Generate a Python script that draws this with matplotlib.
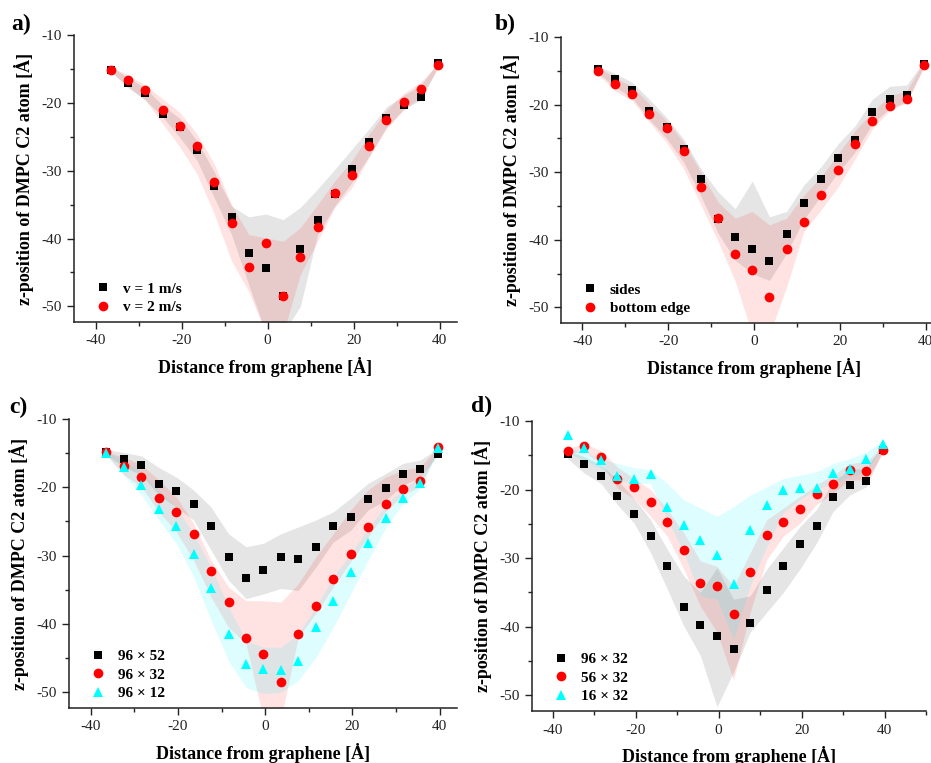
import matplotlib
matplotlib.use("Agg")
import matplotlib.pyplot as plt
from matplotlib.ticker import MultipleLocator

plt.rcParams['font.family'] = ['Liberation Serif', 'DejaVu Serif']
plt.rcParams['axes.unicode_minus'] = False

# positions along the graphene (same for every series)
dist = [-36.4, -32.4, -28.4, -24.4, -20.4, -16.4, -12.4, -8.4, -4.4, -0.4,
        3.6, 7.6, 11.6, 15.6, 19.6, 23.6, 27.6, 31.6, 35.6, 39.6]

# a) pulling velocity
a_v1 = [-15.1, -17.1, -18.5, -21.6, -23.6, -26.9, -32.3, -36.8, -42.1, -44.4,
        -48.5, -41.5, -37.3, -33.5, -29.8, -25.8, -22.3, -20.3, -19.2, -14.1]
a_v2 = [-15.1, -16.7, -18.1, -21.0, -23.4, -26.4, -31.6, -37.7, -44.2, -40.6,
        -48.4, -42.7, -38.3, -33.3, -30.7, -26.4, -22.6, -19.9, -18.0, -14.4]
a_v1_hi = [-14.7, -16.3, -17.8, -20.4, -22.3, -25.6, -30.2, -35.2, -36.8, -36.4,
           -37.2, -35.4, -32.7, -29.8, -26.8, -23.8, -20.6, -18.9, -17.4, -14.0]
a_v1_lo = [-15.4, -17.8, -19.6, -22.1, -25.1, -28.5, -34.0, -39.4, -46.8, -54.0,
           -54.0, -50.0, -39.4, -35.2, -31.7, -27.8, -23.6, -20.9, -19.6, -14.7]
a_v2_hi = [-14.7, -15.9, -17.4, -19.4, -21.4, -24.6, -29.0, -35.0, -39.4, -39.9,
           -40.4, -38.4, -35.0, -31.5, -28.5, -24.6, -21.1, -18.6, -16.9, -14.2]
a_v2_lo = [-15.4, -17.6, -19.6, -23.1, -26.5, -30.5, -36.4, -43.3, -47.8, -54.0,
           -54.0, -45.3, -40.4, -35.4, -32.5, -28.0, -23.8, -21.1, -19.1, -14.9]

# b) pulling direction
b_sides = [-14.7, -16.2, -17.9, -20.9, -23.3, -26.6, -31.0, -36.9, -39.6, -41.3,
           -43.2, -39.2, -34.5, -31.0, -27.9, -25.2, -21.1, -19.2, -18.6, -14.0]
b_edge = [-15.0, -16.9, -18.5, -21.4, -23.5, -26.8, -32.2, -36.8, -42.1, -44.4,
          -48.5, -41.4, -37.4, -33.4, -29.7, -25.8, -22.4, -20.2, -19.1, -14.1]
b_sides_hi = [-14.3, -15.4, -16.7, -19.2, -21.9, -25.1, -29.5, -32.9, -35.4, -31.3,
              -36.6, -35.8, -31.9, -29.2, -25.8, -23.1, -19.2, -17.3, -17.1, -13.6]
b_sides_lo = [-15.3, -17.4, -19.0, -22.2, -25.0, -28.5, -33.5, -39.0, -43.0, -45.0,
              -46.0, -42.0, -37.0, -33.5, -30.0, -27.0, -22.8, -20.6, -19.6, -14.4]
b_edge_hi = [-14.5, -16.0, -17.3, -19.9, -22.4, -25.6, -30.0, -34.4, -36.8, -35.8,
             -37.8, -36.8, -33.4, -30.7, -27.3, -23.8, -21.1, -18.7, -18.0, -13.6]
b_edge_lo = [-15.5, -18.0, -19.4, -22.6, -25.6, -29.5, -34.8, -40.2, -46.1, -54.0,
             -54.0, -47.0, -38.8, -35.6, -32.2, -28.0, -23.6, -20.9, -19.7, -14.5]

# c) box width
c_52 = [-14.9, -15.9, -16.7, -19.5, -20.6, -22.5, -25.6, -30.2, -33.3, -32.1,
        -30.2, -30.5, -28.7, -25.7, -24.4, -21.7, -20.1, -18.0, -17.3, -15.1]
c_32 = [-14.9, -16.9, -18.5, -21.5, -23.6, -26.9, -32.2, -36.8, -42.1, -44.4,
        -48.5, -41.5, -37.4, -33.4, -29.7, -25.8, -22.4, -20.2, -19.1, -14.1]
c_12 = [-15.0, -17.0, -19.6, -23.1, -25.6, -29.7, -34.7, -41.4, -45.8, -46.6,
        -46.7, -45.4, -40.5, -36.7, -32.4, -28.1, -24.5, -21.5, -19.4, -14.3]
c_52_hi = [-14.5, -14.9, -15.4, -17.1, -18.5, -20.4, -22.9, -26.8, -28.7, -28.2,
           -26.8, -25.8, -24.8, -23.6, -21.6, -19.4, -18.0, -16.5, -16.0, -14.3]
c_52_lo = [-15.3, -17.0, -18.2, -21.1, -22.9, -24.8, -29.2, -33.6, -36.3, -35.6,
           -34.8, -35.1, -31.7, -28.0, -26.3, -23.3, -21.9, -19.7, -18.5, -15.3]
c_32_hi = [-14.8, -15.6, -16.7, -18.9, -21.4, -25.3, -30.7, -34.6, -36.6, -36.6,
           -36.8, -34.1, -30.2, -26.8, -23.3, -20.4, -18.5, -17.5, -17.0, -14.1]
c_32_lo = [-15.3, -18.2, -19.9, -23.6, -26.5, -30.7, -36.1, -40.5, -42.9, -54.0,
           -54.0, -41.9, -38.5, -34.6, -30.9, -27.3, -23.6, -21.1, -19.9, -14.5]
c_12_hi = [-14.8, -16.0, -17.7, -20.4, -22.9, -26.8, -31.7, -37.5, -42.4, -43.4,
           -43.4, -41.4, -37.5, -33.1, -29.7, -26.0, -22.6, -20.2, -18.5, -14.1]
c_12_lo = [-15.3, -18.2, -21.1, -24.8, -28.2, -33.1, -39.5, -45.4, -49.3, -50.2,
           -50.0, -48.3, -44.9, -40.5, -35.6, -30.7, -26.0, -22.4, -20.2, -14.8]

# d) box length
d_96 = [-14.8, -16.3, -18.0, -21.0, -23.6, -26.8, -31.1, -37.1, -39.8, -41.4,
        -43.3, -39.4, -34.7, -31.2, -28.0, -25.3, -21.1, -19.3, -18.7, -14.2]
d_56 = [-14.4, -13.7, -15.2, -18.4, -19.6, -21.8, -24.8, -28.8, -33.7, -34.1,
        -38.1, -32.0, -26.6, -24.7, -22.8, -20.6, -19.2, -17.1, -17.3, -14.3]
d_16 = [-12.0, -13.9, -15.7, -18.0, -18.5, -17.8, -22.6, -25.2, -27.3, -29.6,
        -33.8, -25.9, -22.3, -20.0, -19.7, -19.7, -17.6, -17.0, -15.6, -13.3]
d_96_hi = [-14.3, -15.2, -16.4, -18.6, -21.3, -24.4, -28.7, -32.6, -35.0, -31.4,
           -36.0, -35.5, -31.6, -28.5, -25.4, -22.9, -18.8, -17.1, -16.9, -13.3]
d_96_lo = [-15.5, -17.6, -19.1, -22.2, -24.9, -29.2, -34.5, -39.9, -44.2, -51.7,
           -46.6, -40.8, -37.9, -35.0, -31.6, -27.8, -23.2, -20.8, -19.6, -14.3]
d_56_hi = [-14.0, -13.3, -14.3, -16.7, -18.4, -20.0, -22.9, -26.3, -30.4, -31.2,
           -34.1, -29.2, -24.4, -22.7, -21.0, -19.3, -17.9, -16.2, -15.9, -13.8]
d_56_lo = [-14.7, -14.5, -16.2, -19.8, -21.3, -23.9, -26.8, -31.6, -37.0, -40.8,
           -47.8, -37.9, -30.2, -26.8, -24.9, -22.2, -20.5, -18.6, -18.6, -14.7]
d_16_hi = [-13.8, -14.6, -15.5, -16.2, -16.8, -17.1, -19.1, -21.5, -22.7, -23.9,
           -22.5, -20.8, -19.6, -18.4, -17.9, -17.4, -16.2, -15.5, -14.5, -13.0]
d_16_lo = [-14.7, -15.7, -16.9, -18.6, -19.1, -19.1, -24.4, -29.2, -35.5, -36.0,
           -41.8, -34.1, -28.3, -23.4, -21.5, -20.0, -19.1, -18.1, -17.4, -13.8]

BLACK = dict(marker='s', color='black', ms=6.2, fill=(0.6, 0.6, 0.6), alpha=0.25)
RED = dict(marker='o', color='red', ms=7, fill=(1.0, 0.0, 0.0), alpha=0.11)
CYAN = dict(marker='^', color='cyan', ms=7, fill=(0.0, 0.95, 1.0), alpha=0.13)

W, H = 931, 763
fig = plt.figure(figsize=(W / 100, H / 100), dpi=100)


def px_axes(l, r, t, b):
    return fig.add_axes([l / W, 1 - b / H, (r - l) / W, (b - t) / H])


def panel(ax, letter, letter_xy, series, xlim, leg_anchor):
    # bands first, markers on top
    for style, y, lo, hi, lab in series:
        ax.fill_between(dist, lo, hi, color=style['fill'], alpha=style['alpha'],
                        lw=0, zorder=1)
    handles = []
    for style, y, lo, hi, lab in series:
        h, = ax.plot(dist, y, ls='none', marker=style['marker'], color=style['color'],
                     ms=style['ms'], mew=0, label=lab, zorder=3, clip_on=False)
        handles.append(h)
    ax.set_xlim(*xlim)
    ax.set_ylim(-52.3, -10)
    ax.xaxis.set_major_locator(MultipleLocator(20))
    ax.xaxis.set_minor_locator(MultipleLocator(10))
    ax.yaxis.set_major_locator(MultipleLocator(10))
    ax.yaxis.set_minor_locator(MultipleLocator(5))
    for s in ['top', 'right']:
        ax.spines[s].set_visible(False)
    for s in ['left', 'bottom']:
        ax.spines[s].set_linewidth(1.1)
        ax.spines[s].set_color('#222222')
    ax.tick_params(which='major', length=5, width=1, labelsize=11,
                   colors='#222222', pad=4)
    ax.tick_params(which='minor', length=3, width=1, colors='#222222')
    ax.set_xlabel('Distance from graphene [Ȧ]', fontsize=13, fontweight='bold',
                  labelpad=7)
    ax.set_ylabel('z-position of DMPC C2 atom [Ȧ]', fontsize=13,
                  fontweight='bold', labelpad=5)
    ax.legend(handles=handles, loc='lower left', bbox_to_anchor=leg_anchor,
              frameon=False, handletextpad=0.7, labelspacing=0.3,
              handlelength=1.2, prop=dict(weight='bold', size=11))
    fig.text(letter_xy[0] / W, 1 - letter_xy[1] / H, letter, fontsize=17,
             fontweight='bold', ha='center', va='center')


ax_a = px_axes(74, 457, 35, 322)
panel(ax_a, 'a)', (21, 24),
      [(BLACK, a_v1, a_v1_lo, a_v1_hi, 'v = 1 m/s'),
       (RED, a_v2, a_v2_lo, a_v2_hi, 'v = 2 m/s')],
      (-45, 44), (0.015, -0.02))

ax_b = px_axes(561, 947, 37, 323)
panel(ax_b, 'b)', (505, 24),
      [(BLACK, b_sides, b_sides_lo, b_sides_hi, 'sides'),
       (RED, b_edge, b_edge_lo, b_edge_hi, 'bottom edge')],
      (-45, 45), (0.015, -0.02))

ax_c = px_axes(69, 457, 419, 708)
panel(ax_c, 'c)', (18, 407),
      [(BLACK, c_52, c_52_lo, c_52_hi, '96 × 52'),
       (RED, c_32, c_32_lo, c_32_hi, '96 × 32'),
       (CYAN, c_12, c_12_lo, c_12_hi, '96 × 12')],
      (-45, 44), (0.015, -0.02))

ax_d = px_axes(532, 926, 421, 711)
panel(ax_d, 'd)', (482, 406),
      [(BLACK, d_96, d_96_lo, d_96_hi, '96 × 32'),
       (RED, d_56, d_56_lo, d_56_hi, '56 × 32'),
       (CYAN, d_16, d_16_lo, d_16_hi, '16 × 32')],
      (-45, 50), (0.015, -0.02))

fig.savefig('out.png', dpi=100)
